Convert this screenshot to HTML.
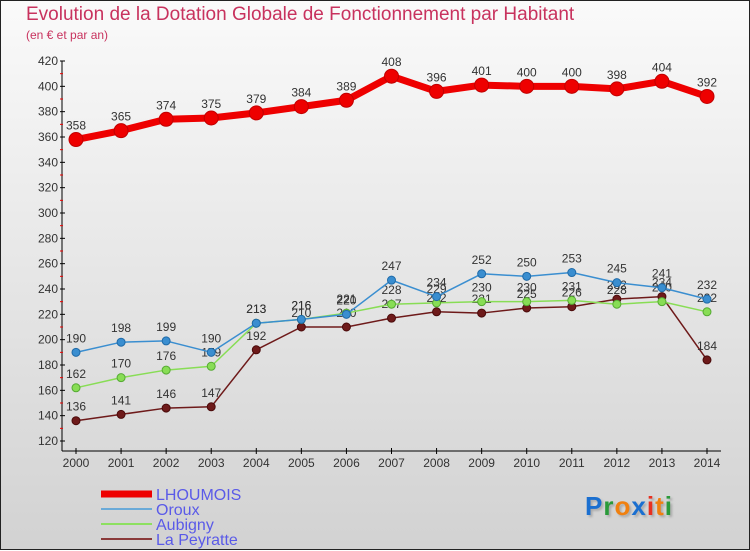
<!DOCTYPE html>
<html><head><meta charset="utf-8"><style>
html,body{margin:0;padding:0}
body{width:750px;height:550px;overflow:hidden;font-family:"Liberation Sans",sans-serif}
#wrap{position:relative;width:748px;height:548px;border:1px solid #222;background:linear-gradient(#fafafa,#d2d2d2)}
.t{position:absolute;left:25px;color:#c8325e}
</style></head><body>
<div id="wrap">
<div class="t" style="top:3px;font-size:19px">Evolution de la Dotation Globale de Fonctionnement par Habitant</div>
<div class="t" style="top:27px;font-size:12px">(en € et par an)</div>
<svg id="c" width="750" height="550" style="position:absolute;left:0;top:0"></svg>
<div style="position:absolute;left:584px;top:490px;font-size:26px;font-weight:bold;letter-spacing:1px;text-shadow:2px 2px 2px #aaa"><span style="color:#1a6fd0">P</span><span style="color:#2a9a3a">r</span><span style="color:#f08010">o</span><span style="color:#1a6fd0">x</span><span style="color:#e83020">i</span><span style="color:#f08010">t</span><span style="color:#2a9a3a">i</span></div>
</div>
<script>
const years=[2000,2001,2002,2003,2004,2005,2006,2007,2008,2009,2010,2011,2012,2013,2014];
const lhoumois=[358,365,374,375,379,384,389,408,396,401,400,400,398,404,392];
const oroux=[190,198,199,190,213,216,220,247,234,252,250,253,245,241,232];
const aubigny=[162,170,176,179,213,216,221,228,229,230,230,231,228,230,222];
const peyratte=[136,141,146,147,192,210,210,217,222,221,225,226,232,234,184];
const yTicks=[120,140,160,180,200,220,240,260,280,300,320,340,360,380,400,420];
const ns="http://www.w3.org/2000/svg",svg=document.getElementById('c');
const X=i=>75+i*(706-75)/(years.length-1);
const Y=v=>60+(420-v)*380/300;
function mk(t,a,p){const e=document.createElementNS(ns,t);for(const k in a)e.setAttribute(k,a[k]);(p||svg).appendChild(e);return e;}
const ax=mk('g',{});


mk('line',{x1:61,y1:60,x2:61,y2:450,stroke:'#000','stroke-width':1},ax);
mk('line',{x1:61,y1:450,x2:720,y2:450,stroke:'#000','stroke-width':1},ax);
yTicks.forEach((v,i)=>{
  mk('line',{x1:59,x2:64,y1:Y(v),y2:Y(v),stroke:'#000'},ax);
  if(i<yTicks.length-1)mk('line',{x1:59,x2:62,y1:Y(v+10),y2:Y(v+10),stroke:'#e00'},ax);
  const t=mk('text',{x:57,y:Y(v)+4,'text-anchor':'end','font-size':12,fill:'#333'},ax);t.textContent=v;
  
  
});
years.forEach((yr,i)=>{
  mk('line',{x1:X(i),x2:X(i),y1:447,y2:453,stroke:'#000'},ax);
  const t=mk('text',{x:X(i),y:466,'text-anchor':'middle','font-size':12,fill:'#333'},ax);t.textContent=yr;
  
  
});
function series(name,vals,color,lw,r,dark){
  const g=mk('g',{});
  
  
  mk('polyline',{points:vals.map((v,i)=>X(i)+','+Y(v)).join(' '),fill:'none',stroke:color,'stroke-width':lw,'stroke-linejoin':'round'},g);
  vals.forEach((v,i)=>{
    const c=mk('circle',{cx:X(i),cy:Y(v),r:r,fill:color,stroke:dark,'stroke-width':1},g);
    
    
    const t=mk('text',{x:X(i),y:Y(v)-10,'text-anchor':'middle','font-size':12,fill:'#333'},g);t.textContent=v;
    
    
  });
}
series('peyratte',peyratte,'#6e1a1a',1.5,4,'#4a0a0a');
series('aubigny',aubigny,'#88dd55',1.5,4,'#55aa33');
series('oroux',oroux,'#3a8ed0',1.5,4,'#1f6aa8');
series('lhoumois',lhoumois,'#ee0000',7,7,'#c00000');
const leg=[['LHOUMOIS','#ee0000',7],['Oroux','#6aaad8',2],['Aubigny','#8de060',2],['La Peyratte','#8a3a3a',2]];
leg.forEach((l,i)=>{
  const g=mk('g',{});
  
  
  const y=493+i*15;
  mk('line',{x1:100,x2:151,y1:y,y2:y,stroke:l[1],'stroke-width':l[2]},g);
  const t=mk('text',{x:155,y:y+6,'font-size':16,fill:'#5a5ae8'},g);t.textContent=l[0];
});
</script>
</body></html>
